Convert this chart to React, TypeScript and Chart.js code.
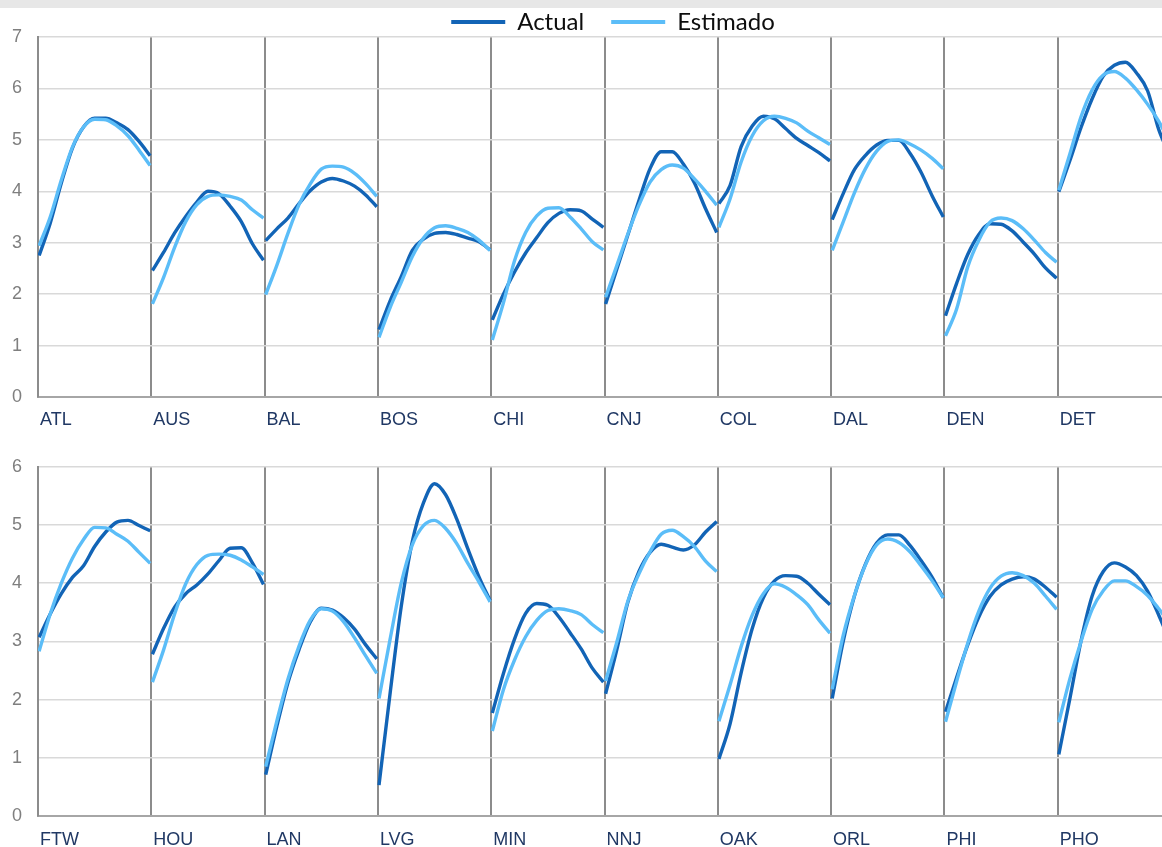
import React, { useEffect, useRef } from "react";
import { Chart, registerables } from "chart.js";

Chart.register(...registerables);

const TOP_CITIES = ["ATL", "AUS", "BAL", "BOS", "CHI", "CNJ", "COL", "DAL", "DEN", "DET"];
const BOTTOM_CITIES = ["FTW", "HOU", "LAN", "LVG", "MIN", "NNJ", "OAK", "ORL", "PHI", "PHO"];

const SERIES_NAMES = ["Actual", "Estimado"];

const ACTUAL_TOP = [
  [2.75, 3.38, 4.16, 4.84, 5.25, 5.42, 5.42, 5.33, 5.2, 4.97, 4.69],
  [2.46, 2.81, 3.19, 3.51, 3.79, 4.0, 3.95, 3.71, 3.41, 2.98, 2.66],
  [3.04, 3.27, 3.48, 3.76, 4.01, 4.18, 4.25, 4.2, 4.1, 3.93, 3.7],
  [1.31, 1.87, 2.34, 2.85, 3.07, 3.18, 3.2, 3.16, 3.09, 3.02, 2.86],
  [1.5, 2.0, 2.43, 2.8, 3.1, 3.39, 3.57, 3.64, 3.62, 3.46, 3.3],
  [1.81, 2.48, 3.15, 3.82, 4.44, 4.77, 4.77, 4.53, 4.16, 3.66, 3.2],
  [3.76, 4.11, 4.87, 5.27, 5.46, 5.41, 5.22, 5.03, 4.89, 4.75, 4.59],
  [3.45, 3.96, 4.42, 4.7, 4.9, 4.99, 4.99, 4.74, 4.37, 3.91, 3.5],
  [1.58, 2.21, 2.77, 3.16, 3.37, 3.36, 3.23, 3.01, 2.78, 2.51, 2.31],
  [3.99, 4.6, 5.24, 5.8, 6.24, 6.45, 6.51, 6.3, 5.95, 5.2, 4.7],
];

const ESTIMADO_TOP = [
  [2.94, 3.5, 4.22, 4.86, 5.25, 5.4, 5.39, 5.27, 5.08, 4.8, 4.5],
  [1.81, 2.32, 2.91, 3.41, 3.74, 3.9, 3.93, 3.9, 3.83, 3.64, 3.48],
  [1.99, 2.56, 3.18, 3.74, 4.14, 4.43, 4.49, 4.47, 4.35, 4.15, 3.9],
  [1.16, 1.74, 2.23, 2.73, 3.09, 3.29, 3.33, 3.28, 3.2, 3.05, 2.85],
  [1.11, 1.83, 2.65, 3.2, 3.52, 3.67, 3.68, 3.5, 3.27, 3.02, 2.86],
  [1.94, 2.55, 3.17, 3.73, 4.18, 4.42, 4.51, 4.45, 4.24, 4.0, 3.73],
  [3.3, 3.85, 4.57, 5.08, 5.37, 5.46, 5.42, 5.33, 5.17, 5.04, 4.91],
  [2.85, 3.41, 3.97, 4.44, 4.78, 4.97, 5.0, 4.92, 4.8, 4.64, 4.44],
  [1.19, 1.71, 2.53, 3.05, 3.4, 3.48, 3.43, 3.27, 3.05, 2.81, 2.62],
  [4.02, 4.73, 5.45, 5.97, 6.26, 6.33, 6.2, 5.97, 5.69, 5.36, 4.95],
];

const ACTUAL_BOTTOM = [
  [3.07, 3.47, 3.82, 4.1, 4.3, 4.63, 4.88, 5.05, 5.08, 4.99, 4.9],
  [2.78, 3.22, 3.59, 3.82, 3.97, 4.16, 4.39, 4.6, 4.61, 4.35, 3.98],
  [0.71, 1.54, 2.29, 2.86, 3.33, 3.57, 3.54, 3.41, 3.21, 2.94, 2.7],
  [0.53, 2.11, 3.6, 4.72, 5.38, 5.71, 5.52, 5.1, 4.59, 4.11, 3.7],
  [1.77, 2.45, 3.04, 3.48, 3.65, 3.62, 3.42, 3.15, 2.87, 2.54, 2.3],
  [2.1, 2.85, 3.67, 4.2, 4.53, 4.67, 4.62, 4.57, 4.66, 4.88, 5.06],
  [0.98, 1.58, 2.46, 3.22, 3.75, 4.04, 4.13, 4.12, 4.0, 3.81, 3.63],
  [2.02, 3.01, 3.78, 4.33, 4.69, 4.83, 4.83, 4.65, 4.39, 4.1, 3.75],
  [1.79, 2.38, 2.94, 3.42, 3.77, 3.97, 4.07, 4.11, 4.07, 3.93, 3.76],
  [1.06, 2.02, 3.01, 3.78, 4.2, 4.35, 4.28, 4.13, 3.86, 3.45, 3.0],
];

const ESTIMADO_BOTTOM = [
  [2.83, 3.47, 4.0, 4.43, 4.75, 4.96, 4.95, 4.84, 4.72, 4.53, 4.34],
  [2.3, 2.85, 3.47, 3.99, 4.32, 4.48, 4.5, 4.48, 4.4, 4.28, 4.15],
  [0.85, 1.63, 2.35, 2.92, 3.36, 3.56, 3.52, 3.34, 3.06, 2.75, 2.45],
  [2.02, 3.04, 4.0, 4.66, 4.99, 5.08, 4.94, 4.68, 4.34, 4.02, 3.68],
  [1.46, 2.17, 2.68, 3.08, 3.36, 3.53, 3.56, 3.53, 3.46, 3.29, 3.15],
  [2.32, 2.98, 3.69, 4.16, 4.54, 4.84, 4.91, 4.8, 4.63, 4.38, 4.2],
  [1.63, 2.25, 2.91, 3.45, 3.82, 3.99, 3.93, 3.8, 3.63, 3.37, 3.14],
  [2.18, 3.11, 3.79, 4.32, 4.66, 4.76, 4.7, 4.54, 4.3, 4.04, 3.75],
  [1.62, 2.31, 2.97, 3.52, 3.91, 4.12, 4.18, 4.13, 4.0, 3.78, 3.55],
  [1.61, 2.36, 3.0, 3.55, 3.87, 4.04, 4.04, 3.94, 3.79, 3.56, 3.3],
];

const TOP_Y_MAX = 7;
const BOTTOM_Y_MAX = 6;

const COLOR_ACTUAL = "#1264B6";
const COLOR_ESTIMADO = "#5BBDF8";

// The original figure is wider than the visible window; it is cropped on the right.
const CANVAS_W = 1226;
const Y_AXIS_W = 38;
const SEGMENT_PX = 113.3;
const X_MAX = (CANVAS_W - Y_AXIS_W) / SEGMENT_PX;

function toPoints(rows: number[][]) {
  const pts: { x: number; y: number | null }[] = [];
  rows.forEach((row, i) => {
    const n = row.length;
    row.forEach((v, j) => {
      pts.push({ x: i + (j + 0.1) / (n - 1 + 0.2), y: v });
    });
    pts.push({ x: i + 0.997, y: null });
  });
  return pts;
}

function makeConfig(
  cities: string[],
  actual: number[][],
  estimado: number[][],
  yMax: number,
  showLegend: boolean,
  xAxisHeight: number,
  padTop: number,
  labelPad: number
): any {
  return {
    type: "line",
    data: {
      datasets: [
        {
          label: SERIES_NAMES[0],
          data: toPoints(actual),
          borderColor: COLOR_ACTUAL,
          backgroundColor: COLOR_ACTUAL,
          borderWidth: 3.4,
          pointRadius: 0,
          fill: false,
          spanGaps: false,
          cubicInterpolationMode: "monotone",
          order: 1,
        },
        {
          label: SERIES_NAMES[1],
          data: toPoints(estimado),
          borderColor: COLOR_ESTIMADO,
          backgroundColor: COLOR_ESTIMADO,
          borderWidth: 3.4,
          pointRadius: 0,
          fill: false,
          spanGaps: false,
          cubicInterpolationMode: "monotone",
          order: 0,
        },
      ],
    },
    options: {
      responsive: false,
      animation: false,
      devicePixelRatio: 1,
      layout: { padding: { top: padTop, right: 0, left: 0, bottom: 0 } },
      plugins: {
        tooltip: { enabled: false },
        legend: {
          display: showLegend,
          position: "top",
          align: "center",
          maxHeight: 54,
          labels: {
            font: { family: "Lato", size: 24 },
            color: "#0d0d0d",
            boxWidth: 54,
            boxHeight: 4,
            padding: 27,
            sort: (a: any, b: any) => a.datasetIndex - b.datasetIndex,
            generateLabels: (chart: any) =>
              Chart.defaults.plugins.legend.labels
                .generateLabels(chart)
                .map((l: any) => ({ ...l, fillStyle: l.strokeStyle, lineWidth: 0 })),
          },
        },
      },
      scales: {
        x: {
          type: "linear",
          min: 0,
          max: X_MAX,
          afterBuildTicks: (axis: any) => {
            axis.ticks = cities.map((_, i) => ({ value: i }));
          },
          afterFit: (scale: any) => {
            scale.height = xAxisHeight;
          },
          grid: {
            color: "#8c8c8c",
            lineWidth: 2,
            drawTicks: false,
          },
          border: { display: true, color: "#a6a6a6", width: 2 },
          ticks: {
            autoSkip: false,
            maxRotation: 0,
            align: "start",
            labelOffset: 2,
            padding: labelPad,
            color: "#203864",
            font: { family: "Liberation Sans", size: 18 },
            callback: (value: number) => cities[Math.round(value)] ?? "",
          },
        },
        y: {
          min: 0,
          max: yMax,
          afterFit: (scale: any) => {
            scale.width = Y_AXIS_W;
          },
          grid: { color: "#d9d9d9", lineWidth: 1.5, drawTicks: false },
          border: { display: true, color: "#8c8c8c", width: 2 },
          ticks: {
            stepSize: 1,
            padding: 16,
            color: "#7f7f7f",
            font: { family: "Liberation Sans", size: 18 },
          },
        },
      },
    },
  };
}

function ChartCanvas(props: { config: any; height: number; top: number }) {
  const ref = useRef<HTMLCanvasElement | null>(null);
  useEffect(() => {
    const chart = new Chart(ref.current as HTMLCanvasElement, props.config);
    return () => chart.destroy();
  }, []);
  return (
    <canvas
      ref={ref}
      width={CANVAS_W}
      height={props.height}
      style={{ position: "absolute", left: 0, top: props.top, width: CANVAS_W, height: props.height }}
    />
  );
}

export default function App() {
  const topConfig = makeConfig(TOP_CITIES, ACTUAL_TOP, ESTIMADO_TOP, TOP_Y_MAX, true, 43, 0, 12);
  const bottomConfig = makeConfig(BOTTOM_CITIES, ACTUAL_BOTTOM, ESTIMADO_BOTTOM, BOTTOM_Y_MAX, false, 31, 16, 13);
  return (
    <div
      style={{
        position: "absolute",
        left: 0,
        top: 0,
        width: 1162,
        height: 847,
        overflow: "hidden",
        background: "#ffffff",
      }}
    >
      <ChartCanvas config={topConfig} height={457} top={-17} />
      <ChartCanvas config={bottomConfig} height={407} top={440} />
      <div
        style={{ position: "absolute", left: 0, top: 0, width: 1162, height: 8, background: "#e7e7e7", zIndex: 2 }}
      />
    </div>
  );
}
